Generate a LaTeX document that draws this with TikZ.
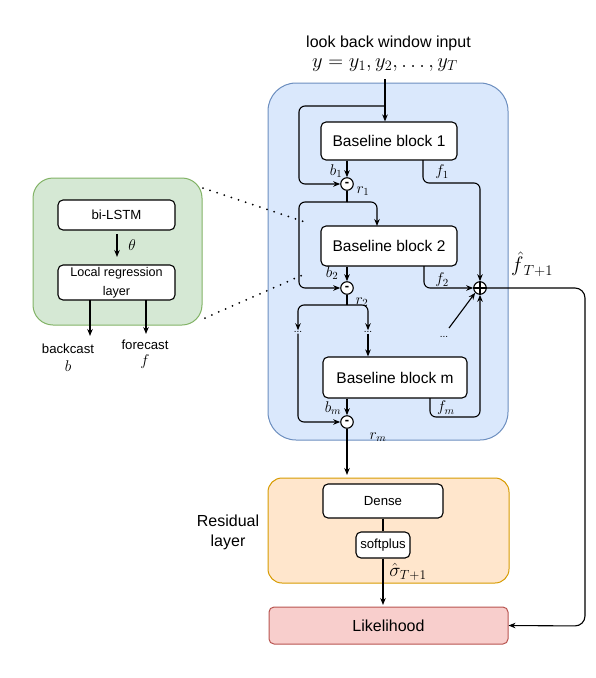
\RequirePackage{fix-cm}
\documentclass[tikz,border=0pt]{standalone}
\usepackage{amsmath}
\usepackage{fontspec}
\setmainfont{Liberation Sans}
\usetikzlibrary{arrows.meta}
\definecolor{bfill}{HTML}{DAE8FC}\definecolor{bline}{HTML}{6C8EBF}
\definecolor{gfill}{HTML}{D5E8D4}\definecolor{gline}{HTML}{82B366}
\definecolor{ofill}{HTML}{FFE6CC}\definecolor{oline}{HTML}{D79B00}
\definecolor{rfill}{HTML}{F8CECC}\definecolor{rline}{HTML}{B85450}
\begin{document}
\begin{tikzpicture}[x=1pt,y=-1pt,
  blk/.style={draw, rounded corners=5pt, fill=white, line width=1.1pt, inner sep=0pt, align=center},
  bigf/.style={font=\fontsize{15.5}{18}\selectfont},
  smf/.style={font=\fontsize{13.2}{16}\selectfont},
  arr/.style={draw, line width=1.1pt, -{Stealth[length=7pt,width=5.5pt]}},
  ln/.style={draw, line width=1.1pt},
  op/.style={circle, draw, fill=white, line width=1.1pt, minimum size=12.5pt, inner sep=0pt},
  mop/.style={op, font=\fontsize{13}{13}\selectfont\bfseries},
  lab/.style={font=\fontsize{15.5}{18}\selectfont, inner sep=0pt},
  dts/.style={font=\fontsize{10}{12}\selectfont, inner sep=1pt},
  dotl/.style={line width=2pt, dash pattern=on 0pt off 7.5pt, line cap=round}]
\useasboundingbox (0,0) rectangle (596,678);
% containers
\draw[fill=bfill, draw=bline, line width=1pt, rounded corners=28pt] (268,83) rectangle (508,440);
\draw[fill=gfill, draw=gline, line width=1pt, rounded corners=20pt] (33,178) rectangle (202,325);
\draw[fill=ofill, draw=oline, line width=1pt, rounded corners=14pt] (268,478) rectangle (509,583);
% top text
\node[font=\fontsize{16}{19}\selectfont, inner sep=0pt] (title) at (388.5,43) {look back window input};
\node[font=\fontsize{20.5}{24}\selectfont, inner sep=0pt] (yin) at (385,65) {$y=y_1,y_2,\ldots,y_T$};
% blocks
\node[blk, bigf, minimum width=136pt, minimum height=38pt] (B1) at (389,141) {Baseline block 1};
\node[blk, bigf, minimum width=136pt, minimum height=40pt] (B2) at (389,246) {Baseline block 2};
\node[blk, bigf, minimum width=144pt, minimum height=41pt] (Bm) at (395,377.5) {Baseline block m};
% operators
\node[mop] (m1) at (347,184) {-};
\node[mop] (m2) at (347,288) {-};
\node[mop] (mm) at (347,422) {-};
\node[op] (pl) at (480,288) {};
\draw[line width=1.1pt] (pl.north) -- (pl.south) (pl.west) -- (pl.east);
% dots
\node[dts] (dl) at (298,332) {...};
\node[dts] (dr) at (368,332) {...};
\node[dts] (dd) at (444,337) {...};
% coordinates
\coordinate (in0) at (385,79);
\coordinate (sp1) at (385,106);
\coordinate (sp2) at (347,202);
\coordinate (sp3) at (347,305);
% input
\draw[arr] (in0) -- (in0 |- B1.north);
\draw[arr, rounded corners=6pt] (sp1) -| (299,184) -- (m1.west);
% block 1
\draw[arr] (m1 |- B1.south) -- (m1.north);
\draw[arr, rounded corners=6pt] (423,160) |- (480,183) -- (pl.north);
% r1
\draw[ln] (m1.south) -- (sp2);
\draw[arr, rounded corners=6pt] (sp2) -| (299,288) -- (m2.west);
\draw[arr, rounded corners=6pt] (sp2) -| (377,226);
% block 2
\draw[arr] (m2 |- B2.south) -- (m2.north);
\draw[arr, rounded corners=6pt] (424,266) |- (pl.west);
% r2
\draw[ln] (m2.south) -- (sp3);
\draw[arr, rounded corners=6pt] (sp3) -| (dl.north);
\draw[arr, rounded corners=6pt] (sp3) -| (dr.north);
\draw[arr, rounded corners=6pt] (dl.south) |- (mm.west);
\draw[arr] (dr.south) -- (dr |- Bm.north);
% block m
\draw[arr] (mm |- Bm.south) -- (mm.north);
\draw[arr, rounded corners=6pt] (430,398) |- (480,417) -- (pl.south);
\draw[arr] (449,328) -- (pl.south west);
% labels
\node[lab] (lb1) at (336,171) {$b_1$};
\node[lab] (lf1) at (442,172) {$f_1$};
\node[lab] (lr1) at (363,191) {$r_1$};
\node[lab] (lb2) at (332,273) {$b_2$};
\node[lab] (lf2) at (442,280) {$f_2$};
\node[lab] (lr2) at (362,302) {$r_2$};
\node[lab] (lbm) at (333,408) {$b_m$};
\node[lab] (lfm) at (446,408) {$f_m$};
\node[lab] (lrm) at (378,437) {$r_m$};
\node[font=\fontsize{21}{24}\selectfont, inner sep=0pt] (lfh) at (532,264) {$\hat{f}_{\,T+1}$};
% residual
\node[blk, smf, minimum width=120pt, minimum height=34pt] (dense) at (383,501) {Dense};
\node[blk, smf, minimum width=54pt, minimum height=26pt] (soft) at (383,545) {softplus};
\node[font=\fontsize{16}{20}\selectfont, align=center, inner sep=0pt] (res) at (228,532) {Residual\\layer};
\node[draw=rline, fill=rfill, line width=1pt, rounded corners=5pt, minimum width=239pt, minimum height=37pt, inner sep=0pt, font=\fontsize{16}{19}\selectfont] (lik) at (388.5,625.5) {Likelihood};
\draw[arr] (mm.south) -- (347,475);
\draw[ln] (dense.south) -- (soft.north);
\draw[arr] (soft.south) -- (383,605);
\node[font=\fontsize{19}{22}\selectfont, inner sep=0pt] (lsig) at (408,572) {$\hat{\sigma}_{T+1}$};
\draw[arr, rounded corners=10pt] (pl.east) -- (585,288) -- (585,626) -- (lik.east);
% left module
\node[blk, smf, minimum width=117pt, minimum height=30pt] (lstm) at (116.5,215) {bi-LSTM};
\node[blk, font=\fontsize{12.6}{19}\selectfont, minimum width=117pt, minimum height=35pt] (lrl) at (116.5,282.5) {Local regression\\layer};
\draw[arr] (117,234) -- (117,257);
\node[lab] (th) at (132,245) {$\theta$};
\draw[arr] (90,300) -- (90,336);
\draw[arr] (146,300) -- (146,334);
\node[smf, inner sep=0pt] (bc) at (68,349) {backcast};
\node[lab] (bb) at (68,366) {$b$};
\node[smf, inner sep=0pt] (fc) at (145,345) {forecast};
\node[lab] (ff) at (145,362) {$f$};
% dotted
\draw[dotl] (203,188) -- (305,222);
\draw[dotl] (205,318) -- (305,274);
\end{tikzpicture}
\end{document}
